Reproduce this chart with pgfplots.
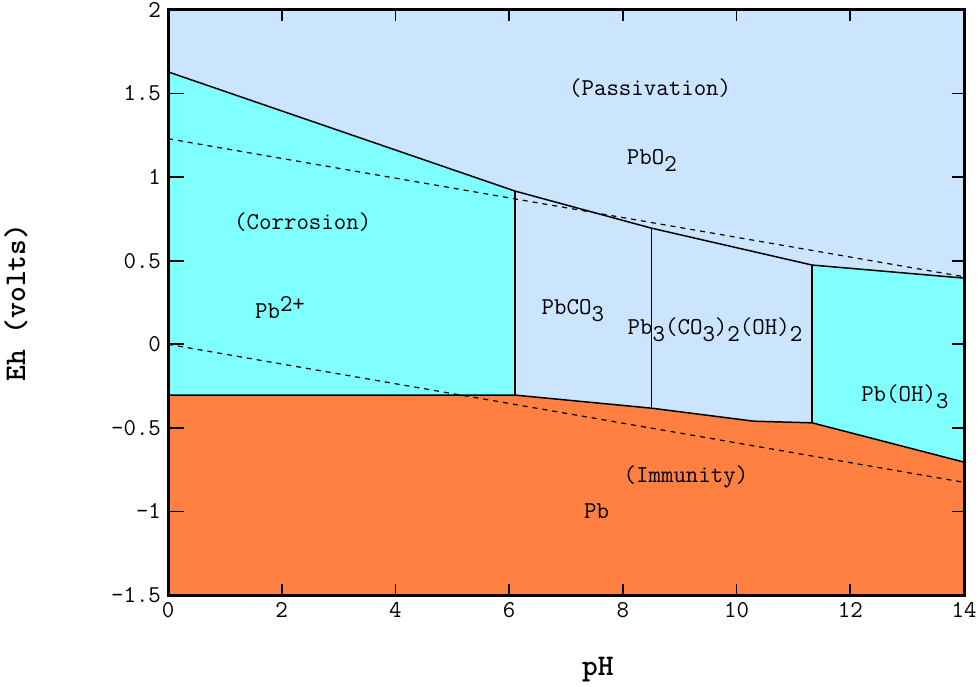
\documentclass[border=0pt]{standalone}
\usepackage{pgfplots}
\pgfplotsset{compat=1.18}
\definecolor{passiv}{RGB}{204,229,255}
\definecolor{corr}{RGB}{128,255,255}
\definecolor{immun}{RGB}{255,128,64}
\newcommand\lab{\fontsize{12.1}{14}\selectfont\ttfamily}
\newcommand\sub[1]{\raisebox{-3.5pt}{#1}}
\newcommand\sups[1]{\raisebox{3.5pt}{#1}}
\pgfplotsset{base/.style={scale only axis, width=398pt, height=292.5pt,
  xmin=0, xmax=14, ymin=-1.5, ymax=2, at={(0,0)}, anchor=south west}}
\begin{document}
\begin{tikzpicture}
\begin{axis}[base, hide axis]
% passivation background
\addplot[fill=passiv, draw=none] coordinates {(0,-1.5) (14,-1.5) (14,2) (0,2)} -- cycle;
% corrosion regions
\addplot[fill=corr, draw=none] coordinates {(0,-0.304) (6.1,-0.304) (6.1,0.917) (0,1.63)} -- cycle;
\addplot[fill=corr, draw=none] coordinates {(11.33,-0.47) (14,-0.705) (14,0.396) (11.33,0.474)} -- cycle;
% immunity
\addplot[fill=immun, draw=none] coordinates {(0,-1.5) (0,-0.304) (6.1,-0.304) (8.5,-0.382) (10.3,-0.46) (11.33,-0.47) (14,-0.705) (14,-1.5)} -- cycle;
% water lines
\addplot[black, line width=0.6pt, dash pattern=on 2.5pt off 2.5pt] coordinates {(0,1.23) (14,0.404)};
\addplot[black, line width=0.6pt, dash pattern=on 2.5pt off 2.5pt] coordinates {(0,0) (14,-0.826)};
% boundaries
\addplot[black, line width=0.75pt] coordinates {(0,1.63) (6.1,0.917) (8.5,0.695) (11.33,0.474) (14,0.396)};
\addplot[black, line width=0.75pt] coordinates {(0,-0.304) (6.1,-0.304) (8.5,-0.382) (10.3,-0.46) (11.33,-0.47) (14,-0.705)};
\addplot[black, line width=0.75pt] coordinates {(6.1,-0.304) (6.1,0.917)};
\addplot[black, line width=0.75pt] coordinates {(8.5,-0.382) (8.5,0.695)};
\addplot[black, line width=0.75pt] coordinates {(11.33,-0.47) (11.33,0.474)};
% labels
\node[font=\lab] at (axis cs:8.48,1.533) {(Passivation)};
\node[font=\lab] at (axis cs:8.51,1.10) {PbO\sub{2}};
\node[font=\lab] at (axis cs:2.37,0.731) {(Corrosion)};
\node[font=\lab] at (axis cs:1.97,0.22) {Pb\sups{2+}};
\node[font=\lab] at (axis cs:7.12,0.199) {PbCO\sub{3}};
\node[font=\lab] at (axis cs:9.62,0.085) {Pb\sub{3}(CO\sub{3})\sub{2}(OH)\sub{2}};
\node[font=\lab] at (axis cs:12.96,-0.316) {Pb(OH)\sub{3}};
\node[font=\lab] at (axis cs:9.11,-0.795) {(Immunity)};
\node[font=\lab] at (axis cs:7.54,-0.998) {Pb};
\end{axis}
\begin{axis}[base,
  axis line style={line width=1.4pt},
  tick align=inside,
  major tick length=0pt,
  xtick={0,2,4,6,8,10,12,14}, xticklabels={0,2,4,6,8,10,12,14},
  ytick={-1.5,-1,-0.5,0,0.5,1,1.5,2},
  yticklabels={-1.5,-1,-0.5,0,0.5,1,1.5,2},
  ticklabel style={font=\lab},
  xlabel={pH}, ylabel={Eh (volts)},
  label style={font=\fontsize{15}{18}\selectfont\ttfamily\bfseries},
  xlabel style={at={(axis description cs:0.54,-0.128)}, anchor=center},
  ylabel style={at={(axis description cs:-0.191,0.5)}, anchor=center},
]
\coordinate (sw) at (rel axis cs:0,0);
\end{axis}
% axis frame and ticks (decoration)
\foreach \i in {1,...,6} {
  \draw[black, line width=0.8pt] ([xshift=\i*56.857pt]sw) -- ++(0pt,5.5pt);
  \draw[black, line width=0.8pt] ([shift={(\i*56.857pt,292.5pt)}]sw) -- ++(0pt,-5.5pt);
}
\foreach \j in {1,...,6} {
  \draw[black, line width=0.8pt] ([yshift=\j*41.786pt]sw) -- ++(8pt,0pt);
  \draw[black, line width=0.8pt] ([shift={(398pt,\j*41.786pt)}]sw) -- ++(-6pt,0pt);
}
\draw[black, line width=1.5pt] (sw) rectangle ([shift={(398pt,292.5pt)}]sw);
\pgfresetboundingbox
\path[use as bounding box] ([shift={(-84pt,-45.5pt)}]sw) rectangle ([shift={(405.5pt,297.5pt)}]sw);
\end{tikzpicture}
\end{document}
